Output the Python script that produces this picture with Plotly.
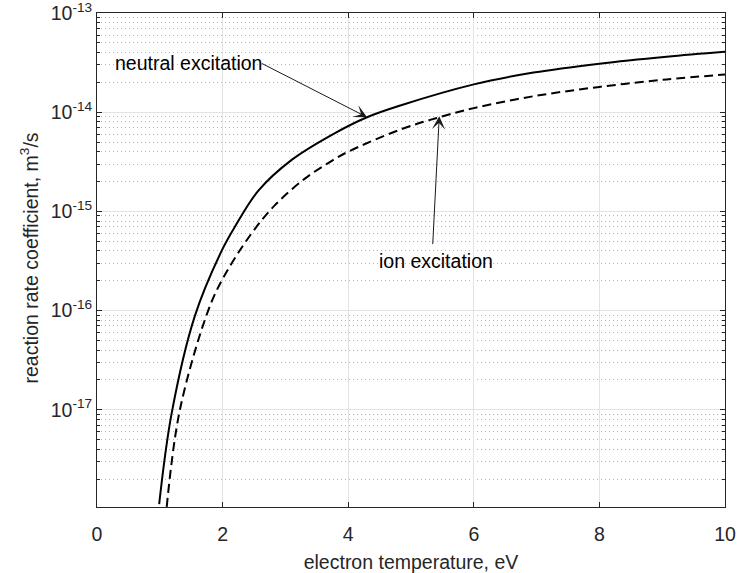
import plotly.graph_objects as go

# electron temperature, eV and rate coefficient, m^3/s
T_neutral = [0.99, 1.19, 1.56, 1.99, 2.2, 2.57, 3.1, 3.79, 4.3, 4.83, 6.0, 6.95, 8.0, 9.07, 10.0]
k_neutral = [1.12e-18, 9.3e-18, 8.9e-17, 4.07e-16, 7.08e-16, 1.62e-15, 3.31e-15,
             6.17e-15, 8.91e-15, 1.17e-14, 1.91e-14, 2.51e-14, 3.09e-14, 3.63e-14, 4.07e-14]

T_ion = [1.11, 1.32, 1.77, 2.01, 2.44, 2.83, 3.31, 3.74, 4.01, 4.83, 5.45, 6.0, 6.95, 8.0, 9.07, 10.0]
k_ion = [1.05e-18, 1.0e-17, 1.0e-16, 2.14e-16, 5.75e-16, 1.15e-15, 2.14e-15, 3.24e-15,
         4.03e-15, 6.69e-15, 8.91e-15, 1.10e-14, 1.45e-14, 1.80e-14, 2.14e-14, 2.40e-14]

x_ticks = [0, 2, 4, 6, 8, 10]
y_exps = [-17, -16, -15, -14, -13]
y_tickvals = [10.0 ** e for e in y_exps]
y_ticktext = ["10<sup>%d</sup>" % e for e in y_exps]
y_minor = [m * 10.0 ** e for e in range(-18, -13) for m in range(2, 10)]

FONT = "Liberation Sans, Arial, Helvetica, sans-serif"
TXT = "#262626"
FS = 19.5

fig = go.Figure()
fig.add_trace(go.Scatter(x=T_neutral, y=k_neutral, mode="lines",
                         line=dict(color="black", width=2, shape="spline", smoothing=1),
                         name="neutral excitation", showlegend=False))
fig.add_trace(go.Scatter(x=T_ion, y=k_ion, mode="lines",
                         line=dict(color="black", width=2, dash="9px,5px", shape="spline", smoothing=1),
                         name="ion excitation", showlegend=False))

# arrows
for tip_x, tip_y, tail_x, tail_y in [(4.30, -14.05, 2.60, -13.50), (5.45, -14.04, 5.345, -15.345)]:
    fig.add_annotation(x=tip_x, y=tip_y, ax=tail_x, ay=tail_y, xref="x", yref="y", axref="x", ayref="y",
                       text="", showarrow=True, arrowhead=3, arrowsize=2.2, arrowwidth=1,
                       arrowcolor="#1a1a1a", standoff=0, startstandoff=0)
fig.add_annotation(x=0.255, y=-13.50, xref="x", yref="y", text="neutral excitation",
                   showarrow=False, xanchor="left", yanchor="middle",
                   font=dict(family=FONT, size=FS, color="black"))
fig.add_annotation(x=4.46, y=-15.50, xref="x", yref="y", text="ion excitation",
                   showarrow=False, xanchor="left", yanchor="middle",
                   font=dict(family=FONT, size=FS, color="black"))
# y axis title
fig.add_annotation(x=-0.1083, y=0.505, xref="paper", yref="paper", textangle=-90,
                   text="reaction rate coefficient, m<sup>3</sup>/s", showarrow=False,
                   xanchor="center", yanchor="middle", font=dict(family=FONT, size=FS, color=TXT))

fig.update_xaxes(range=[0, 10], tickvals=x_ticks, ticks="inside", ticklen=5, tickcolor=TXT,
                 showline=True, linecolor=TXT, linewidth=1, mirror="allticks", automargin=False,
                 showgrid=True, gridcolor="#e3e3e3", gridwidth=1, zeroline=False,
                 ticklabelstandoff=10, ticklabeloverflow="allow",
                 title=dict(text="electron temperature, eV", font=dict(family=FONT, size=FS, color=TXT)),
                 tickfont=dict(family=FONT, size=FS, color=TXT))
fig.update_yaxes(type="log", range=[-17.98, -12.9995], tickvals=y_tickvals, ticktext=y_ticktext,
                 ticks="inside", ticklen=5, tickcolor=TXT, automargin=False, ticklabeloverflow="allow",
                 showline=True, linecolor=TXT, linewidth=1, mirror="allticks",
                 showgrid=True, gridcolor="#e3e3e3", gridwidth=1, zeroline=False,
                 minor=dict(tickvals=y_minor, ticks="inside", ticklen=3, tickcolor=TXT,
                            showgrid=True, gridcolor="#b4b4b4", griddash="1px,3px", gridwidth=1),
                 tickfont=dict(family=FONT, size=FS, color=TXT))

fig.update_layout(width=738, height=573, margin=dict(l=97, r=13, t=13, b=66),
                  plot_bgcolor="white", paper_bgcolor="white", showlegend=False)

fig.write_html("out.html")
